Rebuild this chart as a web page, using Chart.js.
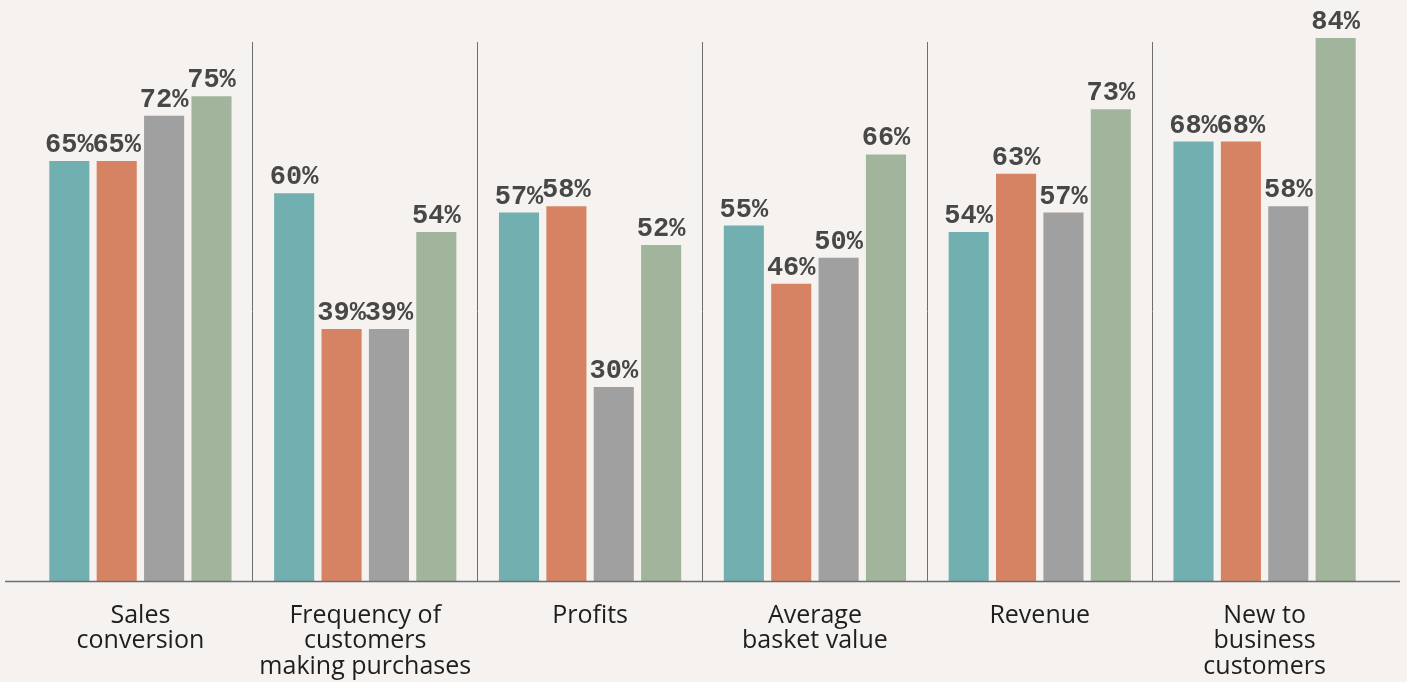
<!DOCTYPE html>
<html lang="en">
<head>
    <meta charset="UTF-8">
    <title>Results by category</title>
    <script src="https://cdn.jsdelivr.net/npm/chart.js"></script>
    <style>
        html, body { margin: 0; padding: 0; background: #f5f2ef; }
        #wrap { width: 1407px; height: 682px; }
    </style>
</head>
<body>
    <div id="wrap"><canvas id="barChart"></canvas></div>
    <script>
        const categories = [
            ["Sales", "conversion"],
            ["Frequency of", "customers", "making purchases"],
            ["Profits"],
            ["Average", "basket value"],
            ["Revenue"],
            ["New to", "business", "customers"]
        ];
        const seriesA = [65, 60, 57, 55, 54, 68];
        const seriesB = [65, 39, 58, 46, 63, 68];
        const seriesC = [72, 39, 30, 50, 57, 58];
        const seriesD = [75, 54, 52, 66, 73, 84];
        const barColors = ["#72afb1", "#d58362", "#a0a0a0", "#a1b59c"];

        // percent labels on top of each bar
        const valueLabels = {
            id: "valueLabels",
            afterDatasetsDraw(chart) {
                const ctx = chart.ctx;
                ctx.save();
                ctx.font = "bold 27px 'Liberation Mono'";
                ctx.fillStyle = "#474747";
                ctx.textAlign = "center";
                ctx.textBaseline = "alphabetic";
                chart.data.datasets.forEach((ds, i) => {
                    chart.getDatasetMeta(i).data.forEach((bar, j) => {
                        ctx.fillText(ds.data[j] + "%", bar.x, bar.y - 9);
                    });
                });
                ctx.restore();
            }
        };

        // baseline runs a little past the plot on both sides
        const baseLine = {
            id: "baseLine",
            afterDraw(chart) {
                const ctx = chart.ctx;
                const y = chart.chartArea.bottom + 0.5;
                ctx.save();
                ctx.strokeStyle = "#6e6e6e";
                ctx.lineWidth = 1.5;
                ctx.beginPath();
                ctx.moveTo(5, y);
                ctx.lineTo(chart.width - 7, y);
                ctx.stroke();
                ctx.restore();
            }
        };

        const makeSet = (data, i) => ({
            data: data,
            backgroundColor: barColors[i],
            borderWidth: 0,
            categoryPercentage: 0.843,
            barPercentage: 0.846,
            clip: false
        });

        const ctx = document.getElementById("barChart").getContext("2d");
        const myChart = new Chart(ctx, {
            type: "bar",
            data: {
                labels: categories,
                datasets: [seriesA, seriesB, seriesC, seriesD].map(makeSet)
            },
            options: {
                responsive: true,
                maintainAspectRatio: false,
                animation: false,
                layout: { padding: { left: 28, right: 30, top: 42, bottom: 0 } },
                plugins: {
                    legend: { display: false },
                    tooltip: { enabled: false }
                },
                scales: {
                    x: {
                        afterFit: (s) => { s.height = 101; },
                        border: { display: false },
                        grid: {
                            offset: true,
                            drawTicks: false,
                            lineWidth: 1,
                            color: (c) => (c.type !== "tick" || c.index === 0) ? "rgba(0,0,0,0)" : "#6e6e6e"
                        },
                        ticks: {
                            color: "#1e1e1e",
                            padding: 22,
                            maxRotation: 0,
                            autoSkip: false,
                            font: { family: "'Open Sans'", size: 25, lineHeight: 1.02 }
                        }
                    },
                    y: {
                        display: false,
                        min: 0,
                        max: 83.4
                    }
                }
            },
            plugins: [valueLabels, baseLine]
        });
    </script>
</body>
</html>
